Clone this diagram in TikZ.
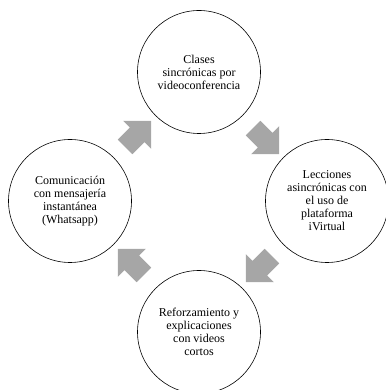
\documentclass[tikz,border=0pt]{standalone}
\usepackage{fontspec}
\setmainfont{Liberation Serif}
\usepackage{tikz}
\usetikzlibrary{shapes,arrows}

\definecolor{cyclegray}{RGB}{166,166,166}

\begin{document}
\begin{tikzpicture}[x=1pt,y=1pt,semithick]
\tikzstyle{every node}=[font=\fontsize{12}{13}\selectfont]
\tikzstyle{stage}=[circle,draw=black,line width=0.6pt,minimum size=123pt,inner sep=0pt,align=center,text=black]
\tikzstyle{turn}=[single arrow,fill=cyclegray,draw=none,inner sep=0pt,minimum height=37pt,minimum width=39pt,single arrow head extend=9.5pt,single arrow tip angle=90]
\useasboundingbox (0,0) rectangle (385,390);
\node[stage] (C) at (199,318) {Clases\\sincrónicas por\\videoconferencia};
\node[stage] (L) at (327,189) {Lecciones\\asincrónicas con\\el uso de\\plataforma\\iVirtual};
\node[stage] (R) at (199,58) {Reforzamiento y\\explicaciones\\con videos\\cortos};
\node[stage] (W) at (70,189) {Comunicación\\con mensajería\\instantánea\\(Whatsapp)};
% arrows of the cycle
\node[turn,rotate=-45] (CL) at (262.5,252.5) {\rule{0pt}{20pt}};
\node[turn,rotate=-135] (LR) at (262.5,124.5) {\rule{0pt}{20pt}};
\node[turn,rotate=135] (RW) at (134.5,124.5) {\rule{0pt}{20pt}};
\node[turn,rotate=45] (WC) at (134.5,252.5) {\rule{0pt}{20pt}};
\end{tikzpicture}
\end{document}
